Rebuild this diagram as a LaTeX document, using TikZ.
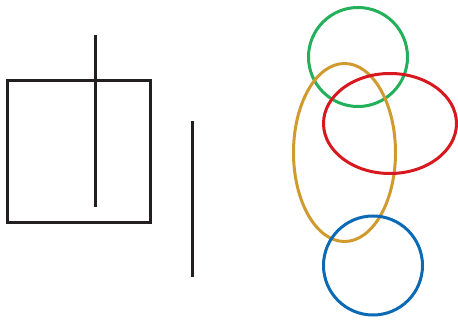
\documentclass[tikz,border=0pt]{standalone}
\usepackage{tikz}

\definecolor{inkdark}{HTML}{231F20}
\definecolor{ringgreen}{HTML}{22B05A}
\definecolor{ringgold}{HTML}{D19A2E}
\definecolor{ringred}{HTML}{D7191F}
\definecolor{ringblue}{HTML}{0A6AB5}

\begin{document}
\begin{tikzpicture}[
    x=1pt, y=-1pt,
    bar/.style={draw=inkdark, line width=3pt},
    ring/.style={line width=3pt}
]

% ===== FRAME =====
\useasboundingbox (0,0) rectangle (458,320);

% ===== LEFT: BOX AND BARS =====
\draw[bar] (7.5,80.5) rectangle (150.5,222.5);
\draw[bar] (95,35) -- (95,207);
\draw[bar] (192,121) -- (192,277);

% ===== RIGHT: RINGS =====
\draw[ring, ringgreen] (358,57) circle (49.5);
\draw[ring, ringgold] (344.5,152.5) ellipse (51 and 89);
\draw[ring, ringred] (390,123.5) ellipse (66.5 and 50);
\draw[ring, ringblue] (373,265.5) circle (49.5);

\end{tikzpicture}
\end{document}
